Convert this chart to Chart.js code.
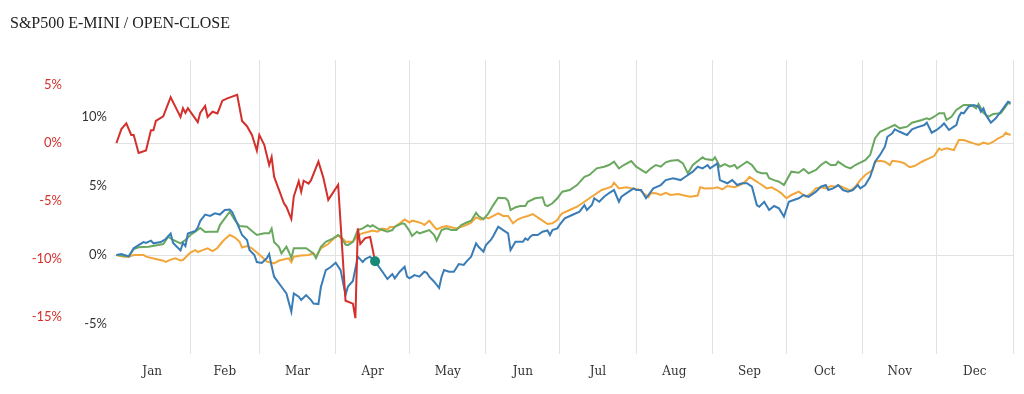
<!DOCTYPE html>
<html>
<head>
<meta charset="utf-8">
<script src="https://cdn.jsdelivr.net/npm/chart.js@4.4.0/dist/chart.umd.min.js"></script>
<style>
  html, body { margin: 0; padding: 0; background: #fff; }
  #wrap { position: relative; width: 1024px; height: 394px; }
  #title { position: absolute; left: 10px; top: 14px; font: 16px "Liberation Serif", serif; color: #222; white-space: nowrap; }
  canvas { position: absolute; left: 0; top: 0; }
</style>
</head>
<body>
<div id="wrap">
  <canvas id="chart" width="1024" height="394"></canvas>
  <div id="title">S&amp;P500 E-MINI / OPEN-CLOSE</div>
</div>
<script>
// x = day of year, y = cumulative open-close return in %
const monthLabels = ["Jan", "Feb", "Mar", "Apr", "May", "Jun", "Jul", "Aug", "Sep", "Oct", "Nov", "Dec"];
const monthStarts = [0, 31, 59, 90, 120, 151, 181, 212, 243, 273, 304, 334, 365];
const leftTicks = [-5, 0, 5, 10];
const redTicks = [-15, -10, -5, 0, 5];

// current year (red scale)
const red = [[1,0],[3,1.2],[5,1.7],[7,0.7],[8,0.7],[10,-0.85],[13,-0.65],[15,1.1],[16,1.1],[17,1.9],[20,2.3],[23,3.95],[25,3.1],[27,2.25],[28,3.0],[29,2.6],[30,3.0],[34,1.8],[35,2.6],[37,3.2],[38,2.25],[40,2.7],[42,2.55],[44,3.65],[46,3.85],[50,4.15],[52,1.9],[54,1.45],[56,0.7],[58,-0.65],[59,0.7],[61,-0.15],[63,-1.9],[64,-1.2],[65,-2.9],[69,-5.2],[70,-5.5],[72,-6.55],[73,-4.6],[75,-3.3],[76,-4.2],[77,-3.25],[79,-3.5],[80,-3.2],[83,-1.6],[85,-3.0],[87,-4.9],[91,-3.6],[94,-13.6],[97,-13.85],[98,-15.1],[99,-7.35],[100,-8.7],[102,-8.2],[104,-8.1],[106,-10.2]];

const blue = [[1,0],[3,0.07],[6,-0.1],[8,0.49],[10,0.72],[12,0.94],[13,0.87],[15,1.04],[16,0.85],[19,0.94],[21,1.16],[23,1.56],[24,0.87],[27,0.33],[28,0.87],[29,0.65],[30,1.56],[33,1.74],[34,1.99],[35,2.46],[37,2.93],[39,2.83],[41,3.02],[43,2.93],[45,3.26],[47,3.30],[48,3.12],[50,2.30],[52,1.45],[54,1.09],[55,0.36],[57,0],[58,-0.51],[60,-0.58],[62,-0.24],[63,0.07],[64,-0.8],[65,-1.57],[68,-2.30],[70,-2.78],[72,-4.11],[73,-2.78],[75,-3.02],[76,-3.26],[78,-2.90],[80,-3.26],[81,-3.51],[83,-3.55],[84,-2.32],[86,-1.09],[88,-0.87],[90,-0.56],[92,-1.09],[94,-2.90],[95,-2.28],[97,-1.88],[99,-0.12],[101,-0.51],[102,-0.29],[104,-0.12],[106,-0.49],[107,-0.72],[109,-1.21],[111,-1.74],[113,-1.38],[114,-1.69],[116,-1.21],[118,-0.85],[119,-1.57],[120,-1.69],[122,-1.45],[124,-1.57],[126,-1.21],[127,-1.28],[128,-1.57],[130,-1.93],[132,-2.39],[133,-1.57],[134,-1.09],[136,-1.21],[138,-1.21],[140,-0.65],[142,-0.72],[143,-0.49],[145,-0.12],[147,0.85],[148,0.60],[150,0.24],[151,0.72],[153,1.09],[154,1.38],[156,2.05],[158,1.81],[160,1.57],[161,0.36],[163,0.96],[166,0.96],[167,1.21],[168,1.09],[169,1.33],[170,1.45],[172,1.45],[174,1.69],[176,1.78],[177,1.45],[178,1.81],[180,1.93],[181,2.21],[183,2.66],[186,2.90],[189,3.14],[191,3.62],[192,3.26],[194,3.62],[195,4.11],[197,3.86],[199,4.22],[201,4.49],[203,4.71],[205,3.86],[206,4.22],[209,4.59],[211,4.83],[212,4.71],[214,4.71],[216,4.11],[219,4.83],[222,5.07],[224,5.43],[227,5.56],[230,5.43],[232,5.67],[235,6.04],[237,6.40],[239,6.28],[241,6.52],[242,6.28],[245,6.64],[246,5.43],[249,5.20],[251,5.43],[253,5.07],[255,5.20],[257,5.20],[259,4.95],[261,3.62],[262,3.50],[264,3.86],[266,3.26],[268,3.55],[270,3.38],[272,2.78],[274,3.86],[276,3.99],[278,4.11],[280,4.35],[282,4.22],[285,4.59],[287,4.95],[289,5.07],[290,4.71],[292,4.83],[294,5.07],[296,4.71],[298,4.59],[300,4.71],[302,5.07],[303,4.83],[305,5.07],[307,5.67],[309,6.76],[311,7.25],[313,7.85],[314,8.57],[316,8.82],[317,9.11],[319,8.93],[321,8.77],[322,8.70],[324,9.11],[326,9.25],[329,9.42],[330,9.59],[332,8.86],[334,9.06],[336,9.35],[337,9.54],[338,9.30],[339,9.06],[341,9.30],[342,9.42],[343,10.02],[344,10.31],[345,10.27],[347,10.75],[349,10.87],[351,10.75],[352,10.38],[353,10.63],[354,10.14],[356,9.59],[358,9.91],[360,10.38],[362,10.87],[363,11.11],[364,11.04]];

const green = [[1,0],[6,-0.1],[8,0.43],[10,0.56],[14,0.60],[18,0.72],[20,0.80],[22,1.33],[24,1.09],[27,0.85],[29,1.09],[31,1.45],[33,1.69],[35,1.96],[37,1.67],[39,1.69],[42,1.69],[43,2.17],[45,2.66],[47,3.14],[49,2.54],[51,2.10],[54,2.05],[56,1.74],[58,1.45],[61,1.57],[63,1.57],[64,1.92],[65,0.94],[67,0.58],[68,0.12],[70,0.60],[71,0.22],[72,-0.22],[73,0.49],[76,0.49],[78,0.49],[81,0.12],[82,-0.22],[84,0.60],[86,0.96],[89,1.21],[91,1.45],[92,1.33],[94,0.76],[95,0.72],[97,0.96],[99,1.81],[101,1.93],[103,2.17],[104,2.05],[105,2.17],[107,1.93],[109,1.81],[111,1.69],[113,1.81],[114,2.05],[117,2.30],[118,2.25],[120,1.74],[121,1.38],[123,1.69],[124,1.57],[126,1.69],[128,1.81],[130,1.45],[131,1.04],[133,1.81],[135,1.93],[137,1.81],[139,1.81],[141,2.17],[143,2.34],[145,2.49],[147,3.07],[148,2.83],[150,2.59],[152,3.02],[154,3.62],[156,4.15],[159,4.11],[160,3.93],[161,3.26],[163,3.46],[165,3.55],[167,3.55],[168,3.86],[171,4.11],[174,4.18],[175,3.62],[176,3.55],[178,3.75],[180,4.11],[182,4.59],[185,4.71],[188,5.07],[191,5.67],[193,5.80],[196,6.28],[199,6.40],[201,6.52],[203,6.76],[205,6.28],[207,6.52],[210,6.81],[212,6.40],[216,5.96],[218,6.28],[220,6.52],[222,6.40],[224,6.72],[226,6.83],[229,6.88],[231,6.64],[233,5.92],[235,6.52],[239,7.08],[240,6.96],[243,6.88],[244,7.08],[246,6.40],[248,6.59],[250,6.40],[252,6.52],[253,6.28],[255,6.52],[257,6.76],[259,6.52],[261,6.04],[263,5.92],[265,5.92],[266,5.56],[268,5.43],[270,5.31],[272,5.07],[275,6.04],[278,5.96],[280,6.23],[282,5.92],[285,6.16],[287,6.52],[289,6.76],[291,6.52],[293,6.52],[294,6.76],[297,6.40],[299,6.28],[301,6.52],[303,6.69],[305,6.88],[307,7.25],[309,8.46],[311,8.93],[314,9.18],[317,9.42],[319,9.18],[322,9.30],[324,9.59],[328,9.78],[330,9.91],[331,9.83],[333,10.02],[335,10.27],[337,10.27],[338,9.78],[340,10.02],[342,10.51],[344,10.75],[345,10.87],[348,10.87],[350,10.63],[351,10.94],[353,10.31],[355,10.02],[357,10.22],[360,10.27],[362,10.75],[363,11.04],[364,10.94]];

const orange = [[1,0],[4,-0.12],[6,-0.12],[8,0],[12,0],[13,-0.12],[17,-0.29],[20,-0.41],[21,-0.49],[23,-0.33],[25,-0.24],[27,-0.40],[28,-0.36],[30,0],[31,0.17],[33,0.36],[34,0.22],[36,0.36],[38,0.49],[40,0.29],[42,0.51],[44,0.96],[45,1.14],[47,1.45],[49,1.28],[51,0.96],[52,0.54],[54,0.65],[56,0.49],[58,0.18],[60,-0.12],[62,-0.47],[65,-0.60],[67,-0.40],[71,-0.24],[72,-0.52],[73,-0.12],[76,-0.04],[79,0],[81,0.12],[82,-0.12],[84,0.49],[87,0.80],[89,1.16],[91,1.41],[93,1.16],[94,0.96],[97,0.96],[99,1.41],[101,1.59],[103,1.67],[105,1.78],[107,1.69],[109,1.91],[111,1.85],[112,2.03],[114,2.05],[116,2.30],[118,2.57],[120,2.36],[121,2.49],[123,2.41],[125,2.30],[126,2.17],[128,2.49],[130,2.05],[131,1.86],[133,2.01],[135,2.10],[137,2.01],[139,1.93],[141,2.05],[143,2.17],[145,2.34],[147,2.73],[149,2.57],[151,2.73],[152,2.66],[154,2.83],[156,3.02],[158,2.83],[160,2.83],[162,2.30],[164,2.59],[166,2.73],[168,2.83],[170,2.97],[172,2.73],[174,2.49],[176,2.25],[178,2.30],[180,2.54],[181,2.83],[182,3.02],[185,3.26],[188,3.50],[191,3.86],[193,4.11],[195,4.35],[198,4.71],[200,4.83],[202,4.95],[203,5.24],[205,4.83],[208,4.91],[210,4.83],[213,4.76],[215,4.47],[217,4.20],[218,4.49],[220,4.47],[222,4.35],[224,4.51],[226,4.35],[229,4.42],[232,4.30],[234,4.22],[237,4.31],[238,4.91],[240,4.82],[243,4.83],[245,4.91],[247,4.76],[249,5.00],[252,4.91],[255,5.14],[257,5.43],[258,5.67],[260,5.43],[262,5.20],[265,4.83],[267,4.91],[269,4.71],[271,4.47],[273,4.11],[275,4.35],[278,4.59],[281,4.22],[283,4.47],[285,4.83],[287,4.91],[289,4.83],[291,5.00],[293,4.95],[294,5.07],[297,4.83],[299,4.66],[301,4.95],[303,5.43],[305,5.80],[308,6.16],[309,6.76],[311,6.83],[313,6.76],[315,6.52],[316,6.83],[319,6.76],[321,6.64],[323,6.36],[325,6.45],[328,6.76],[330,6.93],[333,7.17],[335,7.73],[336,7.61],[338,7.73],[341,7.61],[343,8.33],[345,8.33],[347,8.21],[349,8.09],[351,7.97],[353,8.14],[355,8.04],[357,8.21],[359,8.46],[361,8.62],[362,8.86],[363,8.77],[364,8.70]];

const RED = "#d3302b";
const TEAL = "#178a76";
const GRID = "#e2e2e2";
const labelFont = { family: "Lato", size: 13 };
const serifFont = { family: "DejaVu Serif", size: 12 };

const gridDays = monthStarts.slice(1);
const labelDays = monthLabels.map((m, i) => (monthStarts[i] + monthStarts[i + 1]) / 2);
const toXY = arr => arr.map(([x, y]) => ({ x: x, y: y }));
const pct = v => v + "%";

function lineSet(data, color, axis) {
    return {
        data: toXY(data),
        borderColor: color,
        borderWidth: 2,
        pointRadius: 0,
        yAxisID: axis
    };
}

const redSet = lineSet(red, RED, "yRed");
redSet.pointRadius = c => (c.dataIndex === red.length - 1 ? 5 : 0);
redSet.pointBackgroundColor = TEAL;
redSet.pointBorderWidth = 0;

new Chart(document.getElementById("chart"), {
    type: "line",
    data: {
        datasets: [
            redSet,
            lineSet(blue, "#3a7db6", "y"),
            lineSet(green, "#6aa860", "y"),
            lineSet(orange, "#f2a63a", "y")
        ]
    },
    options: {
        responsive: false,
        animation: false,
        layout: { padding: { top: 60, right: 11, left: 0, bottom: 0 } },
        plugins: { legend: { display: false }, tooltip: { enabled: false } },
        elements: { line: { tension: 0 } },
        scales: {
            x: {
                type: "linear",
                min: 0,
                max: 365,
                afterBuildTicks: s => {
                    s.ticks = gridDays.concat(labelDays).sort((a, b) => a - b).map(v => ({ value: v }));
                },
                afterFit: s => { s.height = 40; },
                border: { display: false },
                grid: {
                    drawTicks: false,
                    color: c => (c.tick && gridDays.includes(c.tick.value) ? GRID : "rgba(0,0,0,0)")
                },
                ticks: {
                    autoSkip: false,
                    maxRotation: 0,
                    padding: 11,
                    color: "#333",
                    font: serifFont,
                    callback: v => {
                        const i = labelDays.indexOf(v);
                        return i >= 0 ? monthLabels[i] : "";
                    }
                }
            },
            y: {
                position: "left",
                weight: 0,
                min: -7.17,
                max: 14.13,
                afterBuildTicks: s => { s.ticks = leftTicks.map(v => ({ value: v })); },
                afterFit: s => { s.width = 44; },
                border: { display: false },
                grid: {
                    drawTicks: false,
                    color: c => (c.tick && c.tick.value === 0 ? GRID : "rgba(0,0,0,0)")
                },
                ticks: { padding: 7, color: "#333", font: labelFont, callback: pct }
            },
            yRed: {
                position: "left",
                weight: 1,
                min: -18.19,
                max: 7.16,
                afterBuildTicks: s => { s.ticks = redTicks.map(v => ({ value: v })); },
                afterFit: s => { s.width = 70; },
                border: { display: false },
                grid: {
                    drawTicks: false,
                    color: c => (c.tick && c.tick.value === 0 ? GRID : "rgba(0,0,0,0)")
                },
                ticks: { padding: 8, color: RED, font: labelFont, callback: pct }
            }
        }
    }
});
</script>
</body>
</html>
